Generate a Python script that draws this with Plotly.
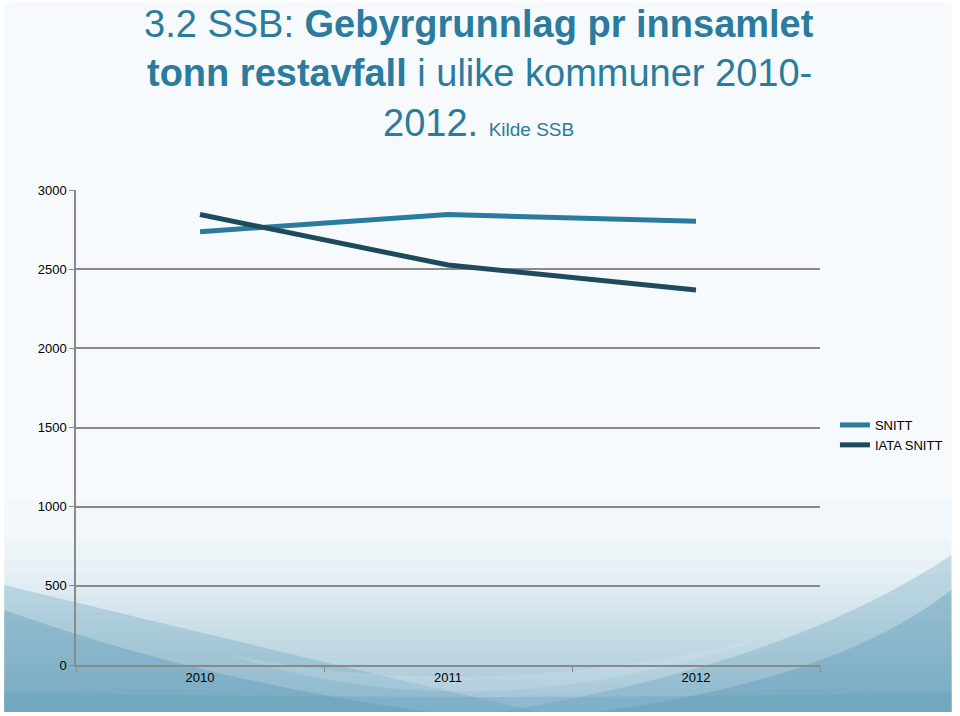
import plotly.graph_objects as go

years = ["2010", "2011", "2012"]
snitt = [2737, 2845, 2803]
iata_snitt = [2845, 2526, 2368]
series_names = ["SNITT", "IATA SNITT"]

W, H = 960, 716
L, R, T, B = 76, 823, 190, 665


def px(x):
    return (x - L) / (R - L)


def py(y):
    return (B - y) / (B - T)


def path(points):
    s = "M {:.4f},{:.4f}".format(px(points[0][0]), py(points[0][1]))
    for p in points[1:]:
        if len(p) == 4:
            s += " Q {:.4f},{:.4f} {:.4f},{:.4f}".format(px(p[0]), py(p[1]), px(p[2]), py(p[3]))
        else:
            s += " L {:.4f},{:.4f}".format(px(p[0]), py(p[1]))
    return s + " Z"


fig = go.Figure()
fig.add_trace(go.Scatter(x=years, y=snitt, name=series_names[0], mode="lines",
                         line=dict(color="#2b7b9e", width=5)))
fig.add_trace(go.Scatter(x=years, y=iata_snitt, name=series_names[1], mode="lines",
                         line=dict(color="#1e4a5c", width=5)))

SX0, SX1, SY0, SY1 = 4, 955, 2, 712
shapes = [dict(type="rect", xref="paper", yref="paper", x0=px(SX0), x1=px(SX1),
               y0=py(SY1), y1=py(SY0), fillcolor="#f6fafc", line=dict(width=0), layer="below")]
# soft vertical gradient, denser towards the bottom
n = 25
for i in range(n):
    y0 = 500 + (SY1 - 500) * (i / n) ** 0.5
    shapes.append(dict(type="rect", xref="paper", yref="paper", x0=px(SX0), x1=px(SX1),
                       y0=py(SY1), y1=py(y0), fillcolor="rgba(120,180,200,0.035)",
                       line=dict(width=0), layer="below"))
# left waves
shapes.append(dict(type="path", xref="paper", yref="paper",
                   path=path([(SX0, 585), (230, 640, 540, SY1), (SX0, SY1)]),
                   fillcolor="rgba(95,160,185,0.30)", line=dict(width=0), layer="below"))
shapes.append(dict(type="path", xref="paper", yref="paper",
                   path=path([(SX0, 610), (200, 680, 430, SY1), (SX0, SY1)]),
                   fillcolor="rgba(85,150,178,0.35)", line=dict(width=0), layer="below"))
# right waves
shapes.append(dict(type="path", xref="paper", yref="paper",
                   path=path([(SX1, 555), (790, 665, 500, SY1), (SX1, SY1)]),
                   fillcolor="rgba(95,160,185,0.30)", line=dict(width=0), layer="below"))
shapes.append(dict(type="path", xref="paper", yref="paper",
                   path=path([(SX1, 590), (840, 680, 600, SY1), (SX1, SY1)]),
                   fillcolor="rgba(85,150,178,0.35)", line=dict(width=0), layer="below"))
# bottom strip
shapes.append(dict(type="path", xref="paper", yref="paper",
                   path=path([(SX0, 692), (480, 702, SX1, 692), (SX1, SY1), (SX0, SY1)]),
                   fillcolor="rgba(95,160,185,0.30)", line=dict(width=0), layer="below"))
# light arc near bottom centre
shapes.append(dict(type="path", xref="paper", yref="paper",
                   path=path([(230, 655), (480, 735, 760, 640), (480, 705, 230, 655)]),
                   fillcolor="rgba(230,243,247,0.18)", line=dict(width=0), layer="below"))

title_color = "#2b7b9e"
font_family = "Liberation Sans, Arial, sans-serif"
annotations = [
    dict(text="3.2 SSB: <b>Gebyrgrunnlag pr innsamlet</b>", x=px(481), y=py(1), yanchor="top"),
    dict(text="<b>tonn restavfall</b> i ulike kommuner 2010-", x=px(481), y=py(73), yanchor="middle"),
    dict(text="2012. <span style='font-size:19px'>Kilde SSB</span>", x=px(480), y=py(123), yanchor="middle"),
]
for a in annotations:
    a.update(xref="paper", yref="paper", showarrow=False, xanchor="center",
             font=dict(family=font_family, size=38, color=title_color))

fig.update_layout(
    width=W, height=H,
    margin=dict(l=L, r=W - R, t=T, b=H - B, pad=0),
    paper_bgcolor="#ffffff",
    plot_bgcolor="rgba(0,0,0,0)",
    font=dict(family=font_family, size=13, color="#000000"),
    shapes=shapes,
    annotations=annotations,
    showlegend=True,
    legend=dict(x=px(838), y=py(410), xanchor="left", yanchor="top",
                bgcolor="rgba(0,0,0,0)", font=dict(size=13, color="#000"),
                itemwidth=30, tracegroupgap=0),
    xaxis=dict(type="category", range=[-0.5, 2.5], showgrid=False, showline=True,
               linecolor="#8a8a8a", linewidth=1.5, ticks="outside", ticklen=5,
               tickcolor="#8a8a8a", tickson="boundaries", zeroline=False,
               tickfont=dict(size=13, color="#000")),
    yaxis=dict(range=[0, 3000], dtick=500, showgrid=True, gridcolor="#8a8a8a",
               gridwidth=1.5, showline=True, linecolor="#8a8a8a", linewidth=1.5,
               ticks="outside", ticklen=5, tickcolor="#8a8a8a", zeroline=False,
               tickfont=dict(size=13, color="#000")),
)

fig.write_html("out.html", config={"displayModeBar": False},
               post_script="document.body.style.margin='0';document.body.style.overflow='hidden';")
